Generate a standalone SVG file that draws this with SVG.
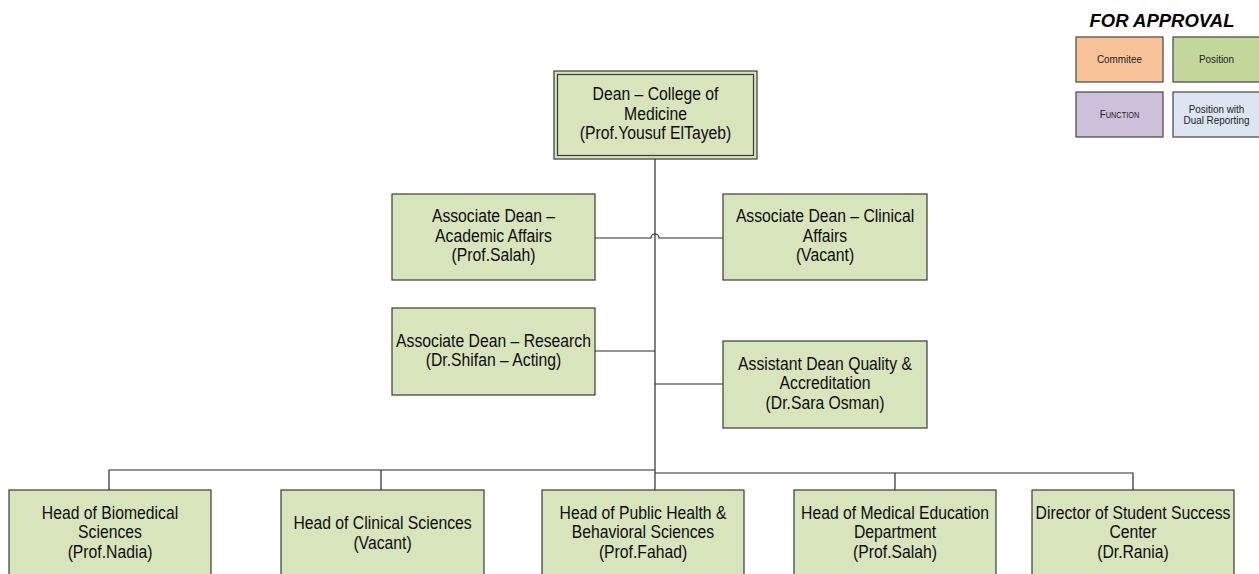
<svg xmlns="http://www.w3.org/2000/svg" width="1259" height="574" viewBox="0 0 1259 574">
<style>
.box{fill:#d8e4bc;stroke:#3a3a3a;stroke-width:1.2}
.t{font-family:"Liberation Sans",Arial,sans-serif;font-size:18.3px;fill:#0d0d0d;text-anchor:middle}
.lg{font-family:"Liberation Sans",Arial,sans-serif;font-size:11.5px;fill:#222;text-anchor:middle}
.c{fill:none;stroke:#2a2a2a;stroke-width:1.2}
</style>
<rect width="1259" height="574" fill="#ffffff"/>
<g id="legend">
<text x="1162" y="27" font-family="'Liberation Sans',Arial,sans-serif" font-size="18.5" font-weight="bold" font-style="italic" text-anchor="middle" fill="#000">FOR APPROVAL</text>
<rect x="1076" y="37" width="87" height="45" fill="#f9c39a" stroke="#444" stroke-width="1.2"/>
<text class="lg" transform="translate(1119.5,63) scale(0.86,1)">Commitee</text>
<rect x="1173" y="37" width="87" height="45" fill="#c4d79b" stroke="#444" stroke-width="1.2"/>
<text class="lg" transform="translate(1216.5,63) scale(0.86,1)">Position</text>
<rect x="1076" y="92" width="87" height="45" fill="#ccc0da" stroke="#444" stroke-width="1.2"/>
<text class="lg" transform="translate(1119.5,118) scale(0.86,1)" style="font-variant:small-caps">Function</text>
<rect x="1173" y="92" width="87" height="45" fill="#dce6f2" stroke="#444" stroke-width="1.2"/>
<text class="lg" transform="translate(1216.5,113) scale(0.86,1)">Position with</text>
<text class="lg" transform="translate(1216.5,124) scale(0.86,1)">Dual Reporting</text>
</g>
<g id="connectors">
<path class="c" d="M655 159 V470"/>
<path class="c" d="M595 238 H651 A4 4 0 0 1 659 238 H723"/>
<path class="c" d="M595 351 H655"/>
<path class="c" d="M655 384 H723"/>
<path class="c" d="M109 490 V470 H655"/>
<path class="c" d="M381 470 V490"/>
<path class="c" d="M655 470 V490"/>
<path class="c" d="M655 473 H1133 V490"/>
<path class="c" d="M895 473 V490"/>
</g>
<g id="dean">
<rect x="554" y="71" width="203" height="88" fill="#d8e4bc" stroke="#3a3a3a" stroke-width="1.2"/>
<rect x="557.5" y="74.5" width="196" height="81" fill="none" stroke="#3a3a3a" stroke-width="1.2"/>
<text class="t" transform="translate(655.5,100) scale(0.86,1)">Dean – College of</text>
<text class="t" transform="translate(655.5,120) scale(0.86,1)">Medicine</text>
<text class="t" transform="translate(655.5,139) scale(0.86,1)">(Prof.Yousuf ElTayeb)</text>
</g>
<g id="assoc-academic">
<rect class="box" x="392" y="194" width="203" height="86"/>
<text class="t" transform="translate(493.5,222) scale(0.86,1)">Associate Dean –</text>
<text class="t" transform="translate(493.5,242) scale(0.86,1)">Academic Affairs</text>
<text class="t" transform="translate(493.5,261) scale(0.86,1)">(Prof.Salah)</text>
</g>
<g id="assoc-clinical">
<rect class="box" x="723" y="194" width="204" height="86"/>
<text class="t" transform="translate(825,222) scale(0.86,1)">Associate Dean – Clinical</text>
<text class="t" transform="translate(825,242) scale(0.86,1)">Affairs</text>
<text class="t" transform="translate(825,261) scale(0.86,1)">(Vacant)</text>
</g>
<g id="assoc-research">
<rect class="box" x="392" y="308" width="203" height="87"/>
<text class="t" transform="translate(493.5,347) scale(0.86,1)">Associate Dean – Research</text>
<text class="t" transform="translate(493.5,366) scale(0.86,1)">(Dr.Shifan – Acting)</text>
</g>
<g id="asst-quality">
<rect class="box" x="723" y="341" width="204" height="87"/>
<text class="t" transform="translate(825,370) scale(0.86,1)">Assistant Dean Quality &amp;</text>
<text class="t" transform="translate(825,389) scale(0.86,1)">Accreditation</text>
<text class="t" transform="translate(825,409) scale(0.86,1)">(Dr.Sara Osman)</text>
</g>
<g id="head-biomedical">
<rect class="box" x="9" y="490" width="202" height="100"/>
<text class="t" transform="translate(110,519) scale(0.86,1)">Head of Biomedical</text>
<text class="t" transform="translate(110,538) scale(0.86,1)">Sciences</text>
<text class="t" transform="translate(110,558) scale(0.86,1)">(Prof.Nadia)</text>
</g>
<g id="head-clinical">
<rect class="box" x="281" y="490" width="203" height="100"/>
<text class="t" transform="translate(382.5,529) scale(0.86,1)">Head of Clinical Sciences</text>
<text class="t" transform="translate(382.5,549) scale(0.86,1)">(Vacant)</text>
</g>
<g id="head-public-health">
<rect class="box" x="542" y="490" width="202" height="100"/>
<text class="t" transform="translate(643,519) scale(0.86,1)">Head of Public Health &amp;</text>
<text class="t" transform="translate(643,538) scale(0.86,1)">Behavioral Sciences</text>
<text class="t" transform="translate(643,558) scale(0.86,1)">(Prof.Fahad)</text>
</g>
<g id="head-med-ed">
<rect class="box" x="794" y="490" width="202" height="100"/>
<text class="t" transform="translate(895,519) scale(0.86,1)">Head of Medical Education</text>
<text class="t" transform="translate(895,538) scale(0.86,1)">Department</text>
<text class="t" transform="translate(895,558) scale(0.86,1)">(Prof.Salah)</text>
</g>
<g id="director-student-success">
<rect class="box" x="1032" y="490" width="202" height="100"/>
<text class="t" transform="translate(1133,519) scale(0.86,1)">Director of Student Success</text>
<text class="t" transform="translate(1133,538) scale(0.86,1)">Center</text>
<text class="t" transform="translate(1133,558) scale(0.86,1)">(Dr.Rania)</text>
</g>
</svg>
